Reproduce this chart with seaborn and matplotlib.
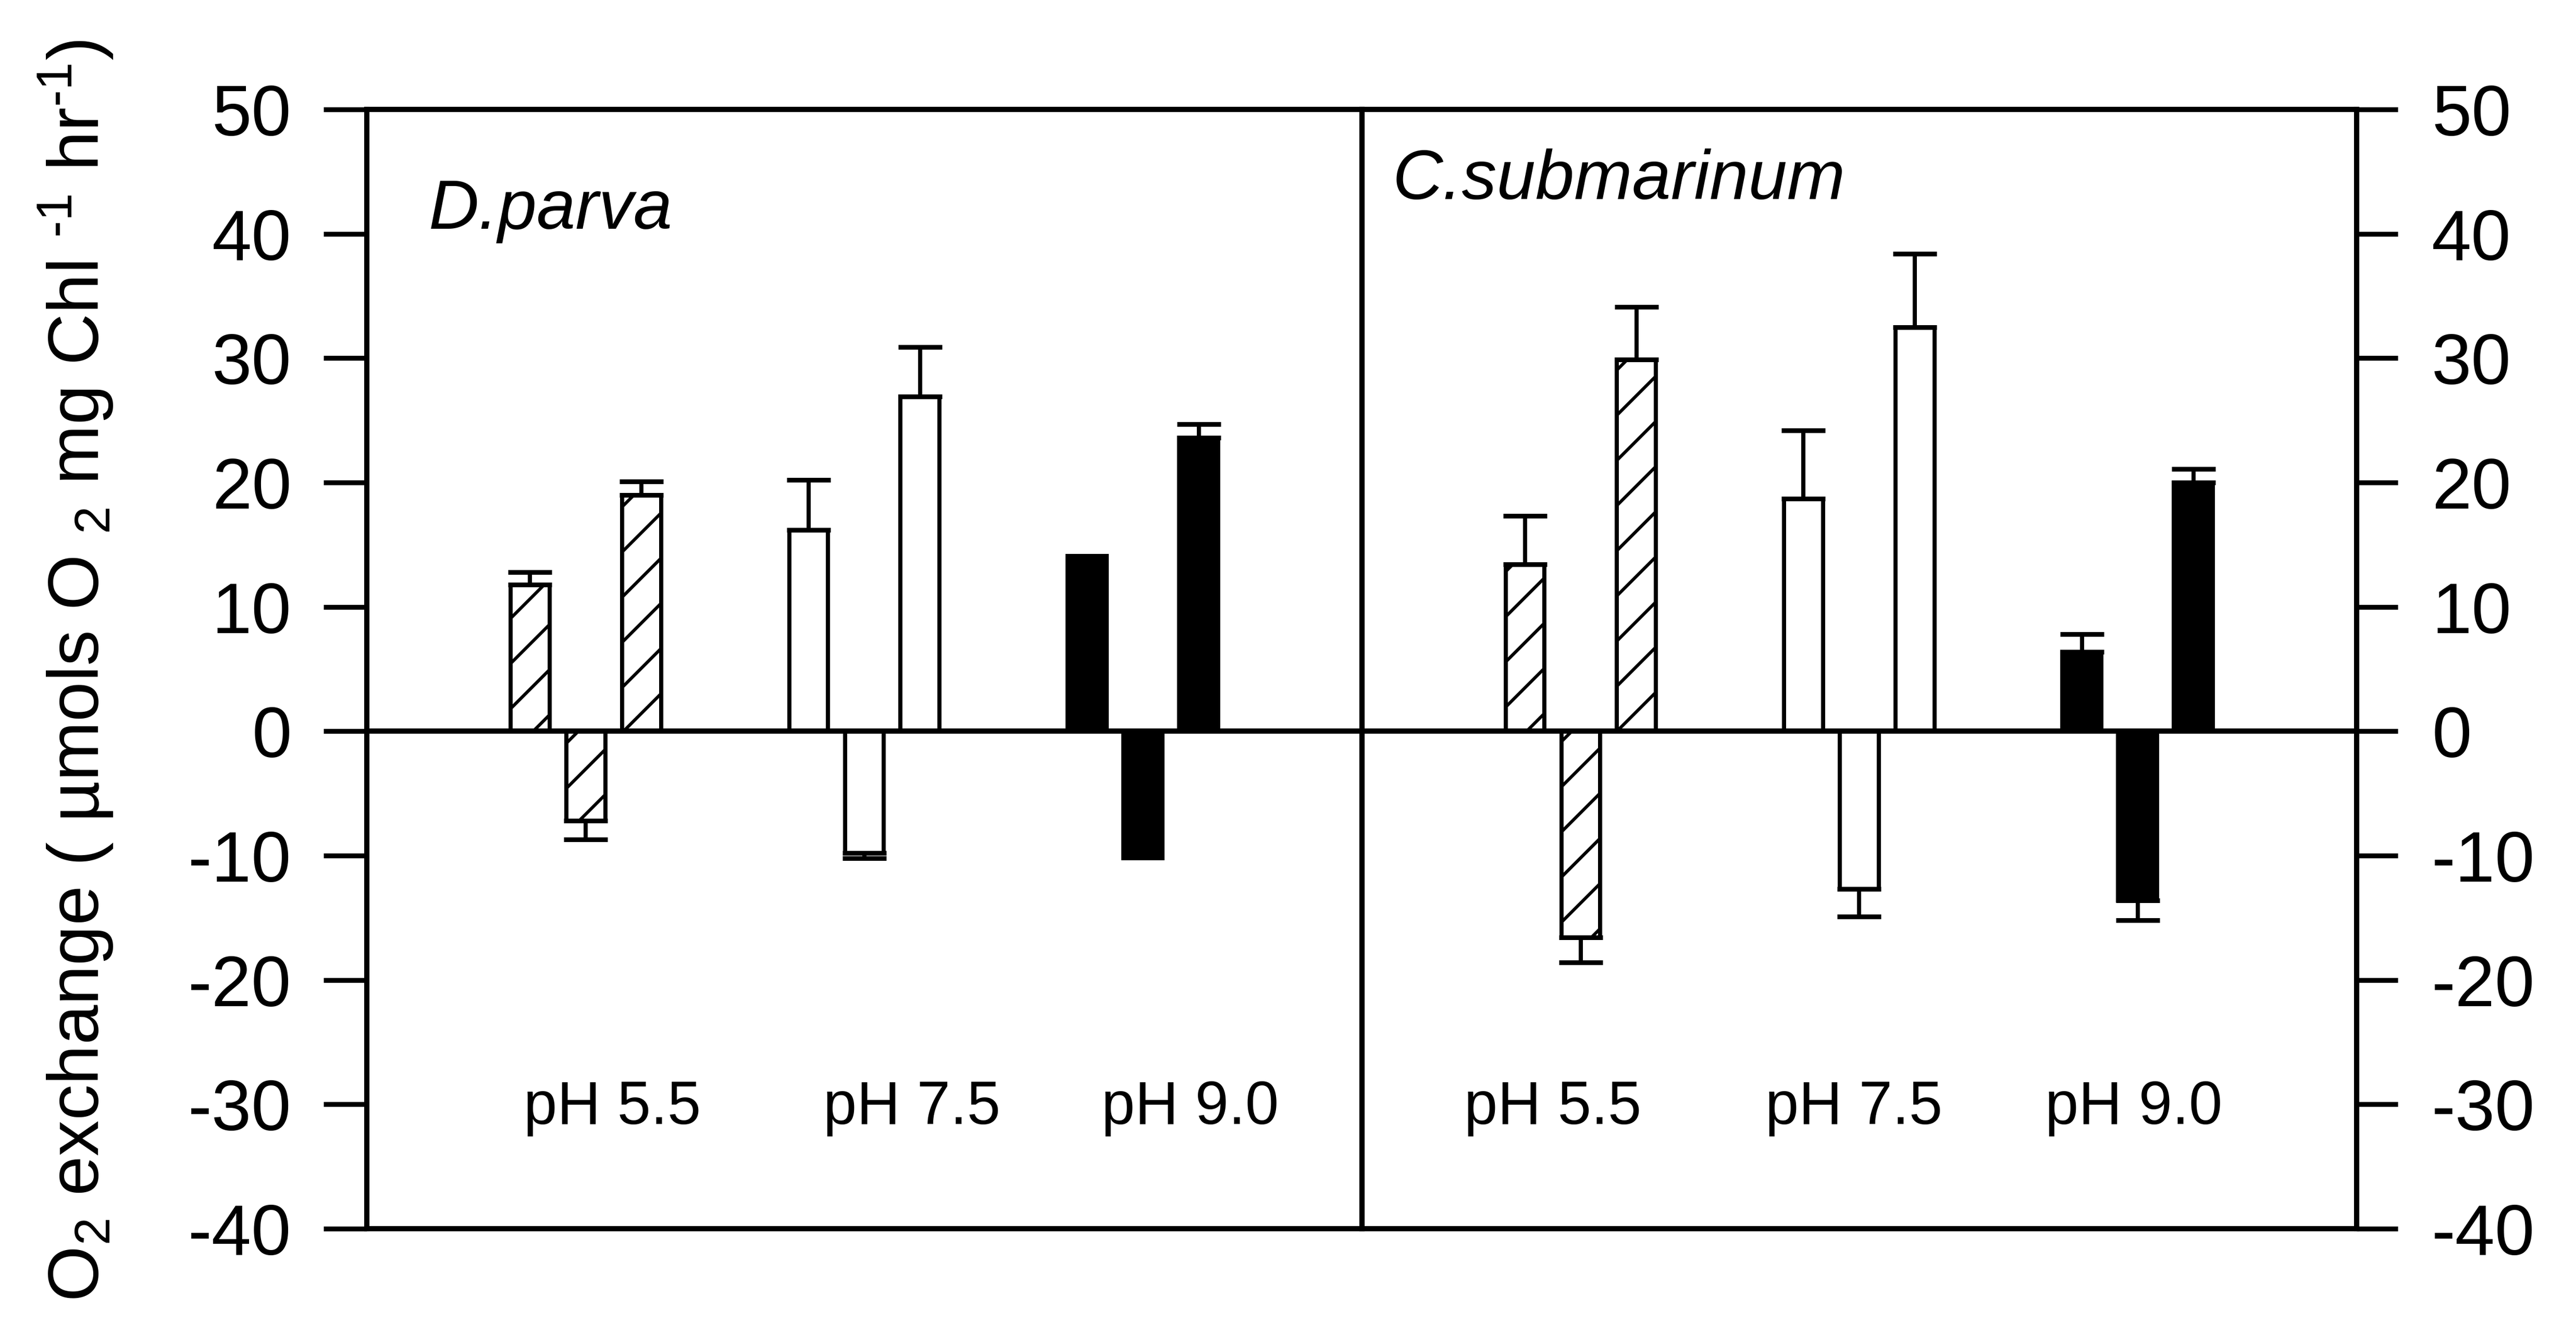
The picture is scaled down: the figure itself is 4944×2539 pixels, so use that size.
import matplotlib
matplotlib.use("Agg")
import matplotlib.pyplot as plt
import pandas as pd
import seaborn as sns

# ---- data -------------------------------------------------------------
species = ["D.parva", "C.submarinum"]
ph_levels = ["pH 5.5", "pH 7.5", "pH 9.0"]
measures = ["Net photosynthesis", "Dark respiration", "Gross photosynthesis"]

dparva_net = [11.8, 16.2, 14.1]
dparva_resp = [-7.2, -9.8, -10.2]
dparva_gross = [19.0, 26.9, 23.6]
dparva_net_se = [1.0, 4.0, 0.0]
dparva_resp_se = [1.5, 0.4, 0.0]
dparva_gross_se = [1.1, 4.0, 1.1]

csub_net = [13.4, 18.7, 6.4]
csub_resp = [-16.6, -12.7, -13.6]
csub_gross = [29.9, 32.5, 20.0]
csub_net_se = [3.9, 5.5, 1.4]
csub_resp_se = [2.0, 2.2, 1.6]
csub_gross_se = [4.2, 5.9, 1.1]

y_ticks = [-40, -30, -20, -10, 0, 10, 20, 30, 40, 50]

# ---- long-form table ----------------------------------------------------
series = {
    "D.parva": [(dparva_net, dparva_net_se), (dparva_resp, dparva_resp_se),
                (dparva_gross, dparva_gross_se)],
    "C.submarinum": [(csub_net, csub_net_se), (csub_resp, csub_resp_se),
                     (csub_gross, csub_gross_se)],
}
rows = []
for sp in species:
    for m, (vals, errs) in zip(measures, series[sp]):
        for ph, v, e in zip(ph_levels, vals, errs):
            rows.append({"species": sp, "pH": ph, "measure": m, "value": v, "se": e})
df = pd.DataFrame(rows)

# ---- style ----------------------------------------------------------------
sns.set_theme(style="white")
plt.rcParams["font.family"] = ["Liberation Sans", "DejaVu Sans"]
plt.rcParams["mathtext.fontset"] = "custom"
plt.rcParams["mathtext.rm"] = "Liberation Sans"
plt.rcParams["mathtext.it"] = "Liberation Sans:italic"
plt.rcParams["axes.unicode_minus"] = False
plt.rcParams["hatch.linewidth"] = 1.7
plt.rcParams["hatch.color"] = "black"
for key in ["text.color", "axes.labelcolor", "xtick.color", "ytick.color",
            "axes.edgecolor"]:
    plt.rcParams[key] = "black"

# fill / hatch used for each pH group
fills = {"pH 5.5": ("white", "/"), "pH 7.5": ("white", ""), "pH 9.0": ("black", "")}

DPI = 260
fig = plt.figure(figsize=(4944 / DPI, 2539 / DPI), dpi=DPI)
x_left, x_mid, x_right = 0.1424, 0.5287, 0.9148
y_bot, y_top = 0.0713, 0.9173
ax_l = fig.add_axes([x_left, y_bot, x_mid - x_left, y_top - y_bot])
ax_r = fig.add_axes([x_mid, y_bot, x_right - x_mid, y_top - y_bot])

name_pos = {"D.parva": (-0.563, 40.4), "C.submarinum": (-0.676, 42.8)}
ph_nudge = {"D.parva": [0.095, 0.17, 0.17], "C.submarinum": [-0.10, -0.02, -0.015]}

for ax, sp in zip([ax_l, ax_r], species):
    sub = df[df["species"] == sp]
    sns.barplot(data=sub, x="pH", y="value", hue="measure", order=ph_levels,
                hue_order=measures, width=0.6, gap=0.3, errorbar=None,
                legend=False, ax=ax, linewidth=2.2, edgecolor="black")

    xs, ys, lo, hi = [], [], [], []
    for m, cont in zip(measures, ax.containers):
        msub = sub[sub["measure"] == m].set_index("pH")
        for ph, bar in zip(ph_levels, cont):
            face, hatch = fills[ph]
            bar.set_facecolor(face)
            bar.set_edgecolor("black")
            bar.set_hatch(hatch)
            bar.set_linewidth(2.2)
            v = msub.loc[ph, "value"]
            e = msub.loc[ph, "se"]
            if e > 0:
                xs.append(bar.get_x() + bar.get_width() / 2)
                ys.append(v)
                lo.append(e if v < 0 else 0.0)
                hi.append(e if v >= 0 else 0.0)
    ax.errorbar(xs, ys, yerr=[lo, hi], fmt="none", ecolor="black",
                elinewidth=2.2, capsize=11.5, capthick=2.5, zorder=4)

    ax.axhline(0, color="black", lw=2.8, zorder=3)
    ax.set_xlim(-0.786, 2.786)
    ax.set_ylim(-40, 50)
    ax.set_yticks(y_ticks)
    ax.set_xticks([])
    ax.set_xlabel("")
    ax.set_ylabel("")
    for s in ax.spines.values():
        s.set_visible(True)
        s.set_color("black")
        s.set_linewidth(2.8)

    nx, ny = name_pos[sp]
    ax.text(nx, ny, sp, fontsize=37, fontstyle="italic", ha="left", va="baseline",
            color="black")
    for i, ph in enumerate(ph_levels):
        ax.text(i + ph_nudge[sp][i], -31.6, ph, fontsize=32, ha="center",
                va="baseline", color="black")

ax_l.tick_params(axis="y", left=True, right=False, labelleft=True, labelright=False,
                 direction="out", length=23, width=2.6, pad=17, labelsize=38,
                 colors="black")
ax_r.tick_params(axis="y", left=False, right=True, labelleft=False, labelright=True,
                 direction="out", length=22, width=2.6, pad=18, labelsize=38,
                 colors="black")

fig.text(0.0295, 0.493,
         r"O$_2$ exchange ( µmols O $_2$ mg Chl $^{\text{-1}}$ hr$^{\text{-1}}$)",
         rotation=90, ha="center", va="center", fontsize=38, color="black")

fig.savefig("out.png", dpi=DPI, facecolor="white")
